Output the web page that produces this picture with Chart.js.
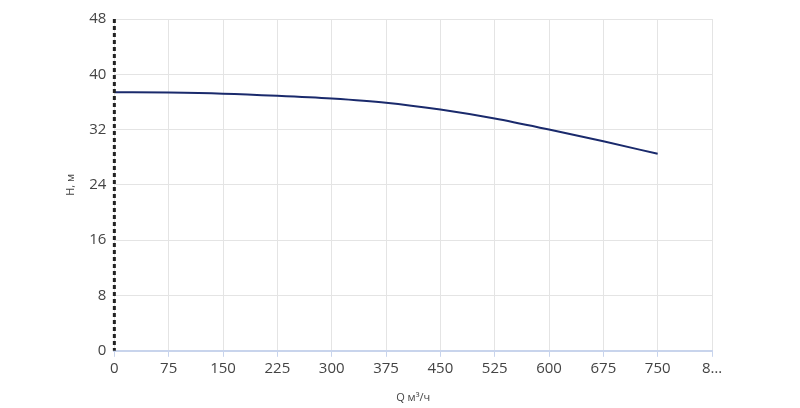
<!DOCTYPE html>
<html>
<head>
<meta charset="utf-8">
<script src="https://cdn.jsdelivr.net/npm/chart.js@4/dist/chart.umd.min.js"></script>
<style>
  body { margin: 0; background: #fff; }
  #wrap { width: 800px; height: 408px; }
</style>
</head>
<body>
<div id="wrap"><canvas id="myChart" width="800" height="408"></canvas></div>
<script>
// pump curve Q-H
const flowQ = [0, 75, 150, 225, 300, 375, 450, 525, 600, 675, 750];
const headH = [37.4, 37.35, 37.2, 36.9, 36.5, 35.9, 34.9, 33.6, 32.0, 30.3, 28.5];
const xTitle = "Q м³/ч";
const yTitle = "H, м";

const points = flowQ.map((q, i) => ({ x: q, y: headH[i] }));

// dashed black y axis line
const dashedAxis = {
  id: 'dashedAxis',
  afterDraw(chart) {
    const c = chart.ctx, a = chart.chartArea;
    c.save();
    c.strokeStyle = '#222';
    c.lineWidth = 3;
    c.setLineDash([4, 3]);
    c.beginPath();
    c.moveTo(a.left, a.top);
    c.lineTo(a.left, a.bottom);
    c.stroke();
    c.restore();
  }
};

const ctx = document.getElementById('myChart').getContext('2d');
const myChart = new Chart(ctx, {
  type: 'line',
  data: {
    datasets: [{
      data: points,
      borderColor: '#1a2a6c',
      borderWidth: 2,
      pointRadius: 0,
      cubicInterpolationMode: 'monotone',
      fill: false
    }]
  },
  options: {
    responsive: false,
    animation: false,
    layout: { padding: { top: 19, right: 88, bottom: 0, left: 60 } },
    plugins: { legend: { display: false }, tooltip: { enabled: false } },
    scales: {
      x: {
        type: 'linear',
        min: 0, max: 825,
        ticks: {
          stepSize: 75,
          color: '#444',
          font: { family: 'Open Sans', size: 15 },
          maxRotation: 0,
          callback: v => v === 825 ? '8…' : v
        },
        grid: { color: '#e4e4e4', tickColor: '#c8d4ec', tickLength: 6 },
        border: { color: '#c8d4ec', width: 2 },
        title: { display: true, text: xTitle, color: '#444', font: { family: 'Open Sans', size: 11 }, padding: { top: 10 } }
      },
      y: {
        min: 0, max: 48,
        ticks: { stepSize: 8, color: '#444', font: { family: 'Open Sans', size: 15 }, padding: 8 },
        grid: { color: '#e4e4e4', drawTicks: false },
        border: { display: false },
        title: { display: true, text: yTitle, color: '#444', font: { family: 'Open Sans', size: 11 } }
      }
    }
  },
  plugins: [dashedAxis]
});
</script>
</body>
</html>
